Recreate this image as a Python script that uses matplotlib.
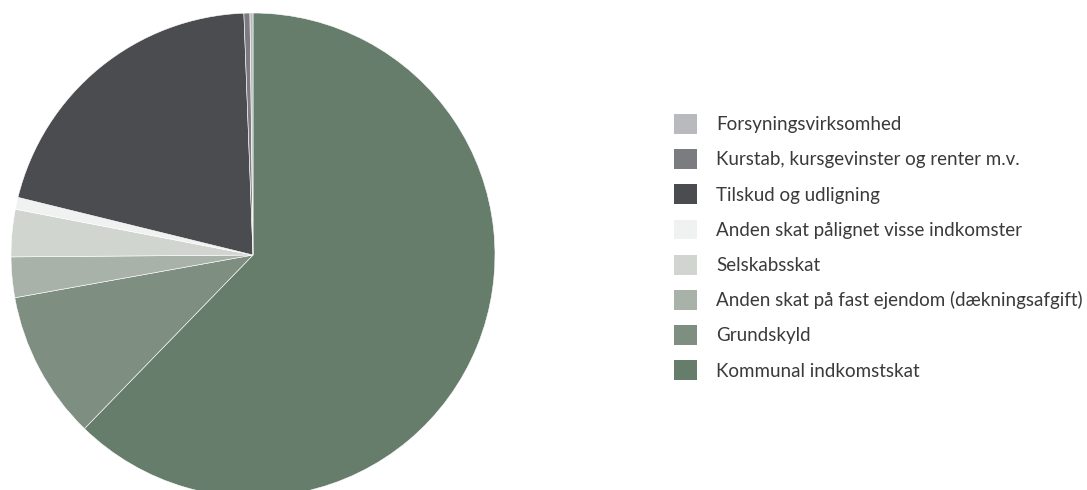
import matplotlib
matplotlib.use("Agg")
import matplotlib.pyplot as plt
from matplotlib.patches import Patch

# wedge order: clockwise from 12 o'clock
labels = [
    "Kommunal indkomstskat",
    "Grundskyld",
    "Anden skat på fast ejendom (dækningsafgift)",
    "Selskabsskat",
    "Anden skat pålignet visse indkomster",
    "Tilskud og udligning",
    "Kurstab, kursgevinster og renter m.v.",
    "Forsyningsvirksomhed",
]
shares = [62.2, 9.9, 2.7, 3.15, 0.8, 20.55, 0.4, 0.2]
colors = ["#667d6c", "#7e8f82", "#a8b2a9", "#d0d5d0",
          "#f0f2f1", "#4a4c4f", "#7b7c80", "#b9babe"]

W, H = 1087, 490
fig = plt.figure(figsize=(W / 100, H / 100), dpi=100)

# pie: centre (253, 255), radius 242 px
cx, cy, r = 253, 255, 242
ax = fig.add_axes([(cx - r) / W, (H - cy - r) / H, 2 * r / W, 2 * r / H])
ax.pie(shares, colors=colors, startangle=90, counterclock=False,
       wedgeprops=dict(edgecolor="white", linewidth=0.4))
ax.set_xlim(-1, 1)
ax.set_ylim(-1, 1)
ax.set_aspect("equal")
ax.axis("off")

fs = 13.5
handles = [Patch(facecolor=c, edgecolor="none") for c in colors][::-1]
fig.legend(handles, labels[::-1], loc="upper left",
           bbox_to_anchor=(674 / W, 1 - 114 / H), frameon=False,
           prop=dict(family="Lato", size=fs),
           handlelength=1.25, handleheight=1.25, handletextpad=1.0,
           labelspacing=0.82, borderpad=0, borderaxespad=0,
           labelcolor="#3a3a3a")

fig.savefig("out.png", dpi=100)
